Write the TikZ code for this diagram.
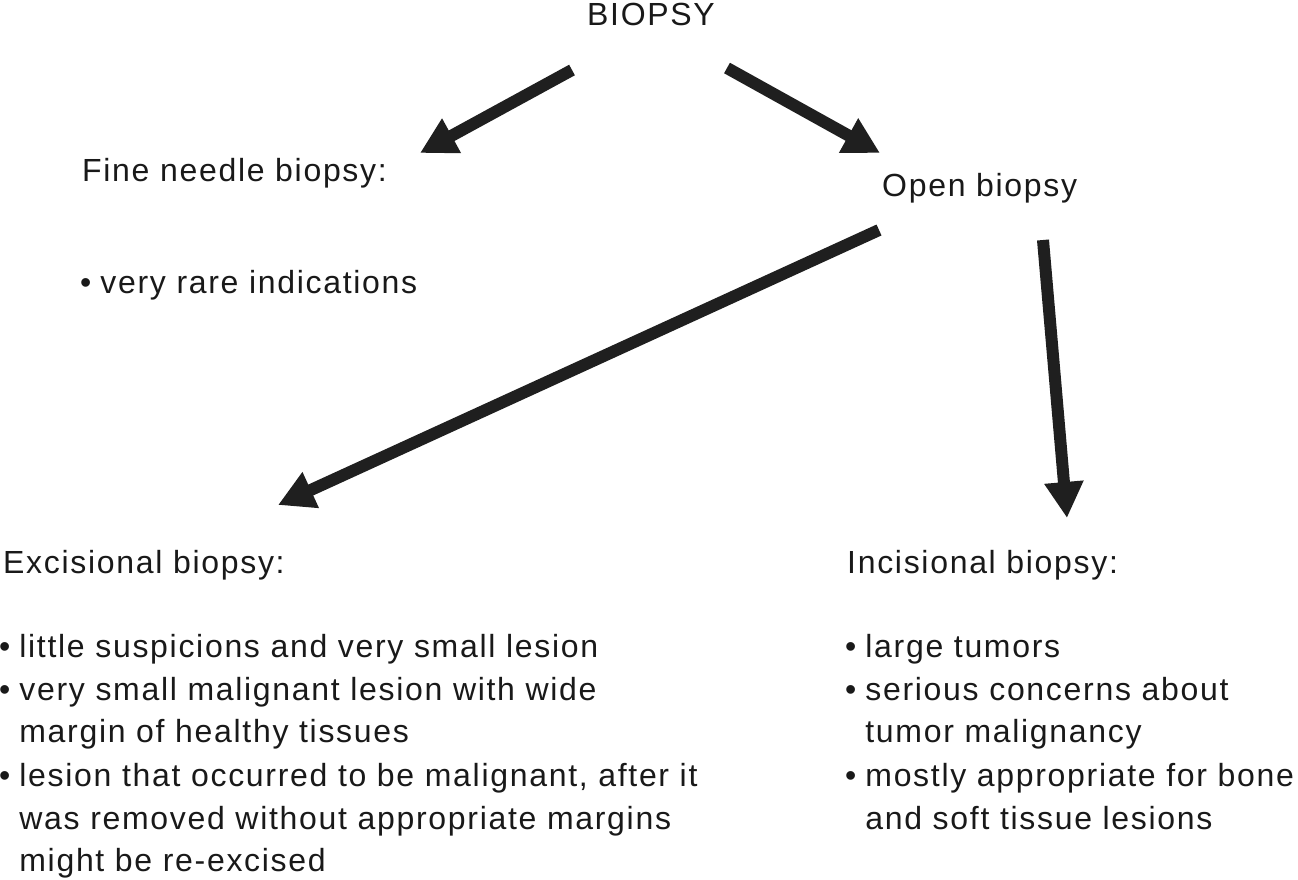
\documentclass[tikz,border=0pt]{standalone}
\usepackage{fontspec}
\setmainfont{Liberation Sans}
\newfontfamily\lsfont[LetterSpace=5.3]{Liberation Sans}
\usetikzlibrary{arrows.meta}
\newcommand{\bul}{\textbullet\hspace{9pt}}
\newcommand{\nobul}{\phantom{\textbullet}\hspace{9pt}}
\begin{document}
\begin{tikzpicture}[x=1pt,y=-1pt,
  txt/.style={anchor=base west,inner sep=0pt,font=\lsfont\fontsize{32}{43}\selectfont,text=black!90},
  bigarrow/.style={line width=12pt,draw=black!88,-{Triangle[width=37pt,length=36pt]}}]
\useasboundingbox (0,0) rectangle (1298,879);
\node[txt,anchor=base] (biopsy) at (651,25) {BIOPSY};
\node[txt] (fine) at (82,181) {Fine needle biopsy:};
\node[txt] (fine1) at (80,293) {\bul very rare indications};
\node[txt] (open) at (882,196) {Open biopsy};
\node[txt] (exc) at (3,573) {Excisional biopsy:};
\node[txt] (exc1) at (-1,657) {\bul little suspicions and very small lesion};
\node[txt] (exc2) at (-1,700) {\bul very small malignant lesion with wide};
\node[txt] (exc3) at (-1,742) {\nobul margin of healthy tissues};
\node[txt] (exc4) at (-1,786) {\bul lesion that occurred to be malignant, after it};
\node[txt] (exc5) at (-1,829) {\nobul was removed without appropriate margins};
\node[txt] (exc6) at (-1,871) {\nobul might be re-excised};
\node[txt] (inc) at (847,573) {Incisional biopsy:};
\node[txt] (inc1) at (845,657) {\bul large tumors};
\node[txt] (inc2) at (845,700) {\bul serious concerns about};
\node[txt] (inc3) at (845,742) {\nobul tumor malignancy};
\node[txt] (inc4) at (845,786) {\bul mostly appropriate for bone};
\node[txt] (inc5) at (845,829) {\nobul and soft tissue lesions};
\coordinate (a1s) at (572,70);
\coordinate (a1e) at (420,153);
\coordinate (a2s) at (727,68);
\coordinate (a2e) at (880,153);
\coordinate (a3s) at (879,230);
\coordinate (a3e) at (278,505);
\coordinate (a4s) at (1043,240);
\coordinate (a4e) at (1067,518);
\draw[bigarrow] (a1s) -- (a1e);
\draw[bigarrow] (a2s) -- (a2e);
\draw[bigarrow] (a3s) -- (a3e);
\draw[bigarrow] (a4s) -- (a4e);
\end{tikzpicture}
\end{document}
